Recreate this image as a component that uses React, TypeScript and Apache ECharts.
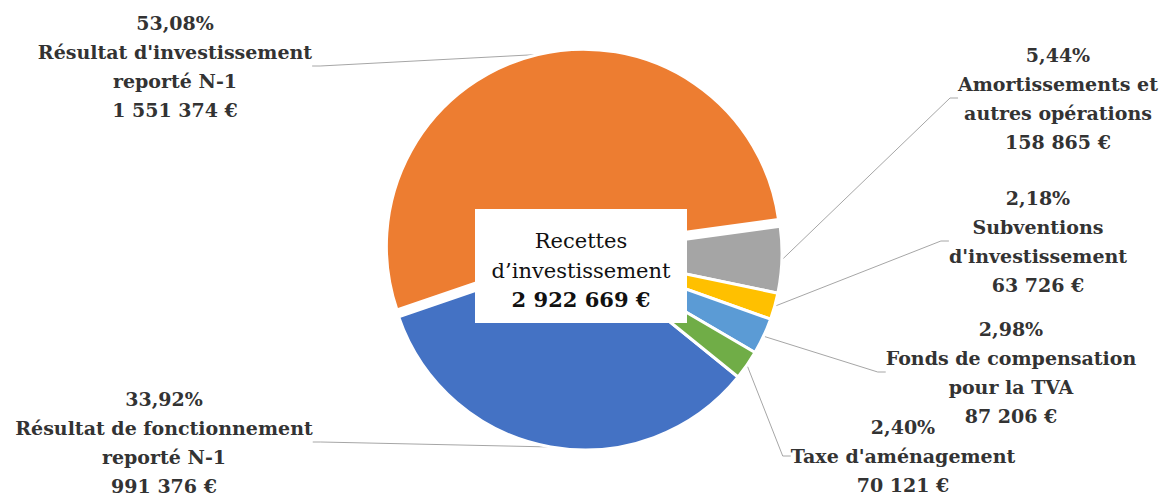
import React, { useEffect, useRef } from 'react';
import * as echarts from 'echarts';

const categories = [
  "Résultat de fonctionnement\nreporté N-1",
  "Résultat d'investissement\nreporté N-1",
  "Amortissements et\nautres opérations",
  "Subventions\nd'investissement",
  "Fonds de compensation\npour la TVA",
  "Taxe d'aménagement",
];
const values = [991376, 1551374, 158865, 63726, 87206, 70121];
const colors = ['#4472C4', '#ED7D31', '#A5A5A5', '#FFC000', '#5B9BD5', '#70AD47'];
const explodedIndex = 1;
const centerTitle = ['Recettes', 'd’investissement'];
const totalValue = 2922669;

// label block centers (layout only)
const labelPos: number[][] = [
  [164, 442],
  [175, 66],
  [1058, 98],
  [1038, 241],
  [1011, 372],
  [903, 456],
];

const fmt = (n: number) => String(n).replace(/\B(?=(\d{3})+(?!\d))/g, ' ') + ' €';

export default function App() {
  const ref = useRef<HTMLDivElement>(null);
  useEffect(() => {
    document.body.style.margin = '0';
    const chart = echarts.init(ref.current!, null, { renderer: 'svg' });
    const sum = values.reduce((a, b) => a + b, 0);
    const serif = 'DejaVu Serif';
    const center = [585, 253];
    const radius = 197;
    const startAngle = 321;
    const offset = 7;
    // mid angle of the exploded slice
    const before = values.slice(0, explodedIndex).reduce((a, b) => a + b, 0);
    const midFrac = (before + values[explodedIndex] / 2) / sum;
    const midAngle = ((startAngle - midFrac * 360) * Math.PI) / 180;
    const center2 = [center[0] + offset * Math.cos(midAngle), center[1] - offset * Math.sin(midAngle)];

    const baseLabel = {
      show: true,
      position: 'outside',
      fontFamily: serif,
      fontWeight: 'bold',
      fontSize: 19,
      lineHeight: 29,
      color: '#333333',
      align: 'center',
      formatter: (p: any) =>
        `${p.percent.toFixed(2).replace('.', ',')}%\n${p.name}\n${fmt(p.value)}`,
    };
    const labelLine = {
      show: true,
      length: 10,
      length2: 8,
      lineStyle: { color: '#A6A6A6', width: 1 },
    };
    const labelLayout = (params: any) => {
      const p = labelPos[params.dataIndex];
      return { x: p[0], y: p[1], align: 'center', verticalAlign: 'middle' };
    };
    const makeSeries = (c: number[], onlyExploded: boolean) => ({
      type: 'pie',
      center: c,
      radius,
      startAngle,
      clockwise: true,
      silent: true,
      emphasis: { disabled: true },
      label: baseLabel,
      labelLine,
      labelLayout,
      data: categories.map((name, i) => {
        const visible = onlyExploded ? i === explodedIndex : i !== explodedIndex;
        return {
          name,
          value: values[i],
          itemStyle: visible
            ? { color: colors[i], borderColor: '#ffffff', borderWidth: 3 }
            : { color: 'rgba(0,0,0,0)', borderWidth: 0 },
          label: { show: visible },
          labelLine: { show: visible },
        };
      }),
    });

    chart.setOption({
      animation: false,
      backgroundColor: '#ffffff',
      series: [makeSeries(center, false), makeSeries(center2, true)],
      graphic: [
        {
          type: 'group',
          left: 475,
          top: 209,
          z: 100,
          children: [
            {
              type: 'rect',
              z: 100,
              shape: { x: 0, y: 0, width: 212, height: 114 },
              style: { fill: '#ffffff' },
            },
            {
              type: 'text',
              z: 101,
              x: 106,
              y: 60,
              style: {
                text: `{a|${centerTitle[0]}}\n{a|${centerTitle[1]}}\n{b|${fmt(totalValue)}}`,
                align: 'center',
                verticalAlign: 'middle',
                textAlign: 'center',
                textVerticalAlign: 'middle',
                rich: {
                  a: { fontFamily: serif, fontSize: 21, lineHeight: 30, fill: '#111111', color: '#111111' },
                  b: { fontFamily: serif, fontSize: 21, fontWeight: 'bold', lineHeight: 27, fill: '#111111', color: '#111111' },
                },
              },
            },
          ],
        },
      ],
    });
    return () => chart.dispose();
  }, []);
  return <div ref={ref} style={{ width: 1161, height: 495 }} />;
}
